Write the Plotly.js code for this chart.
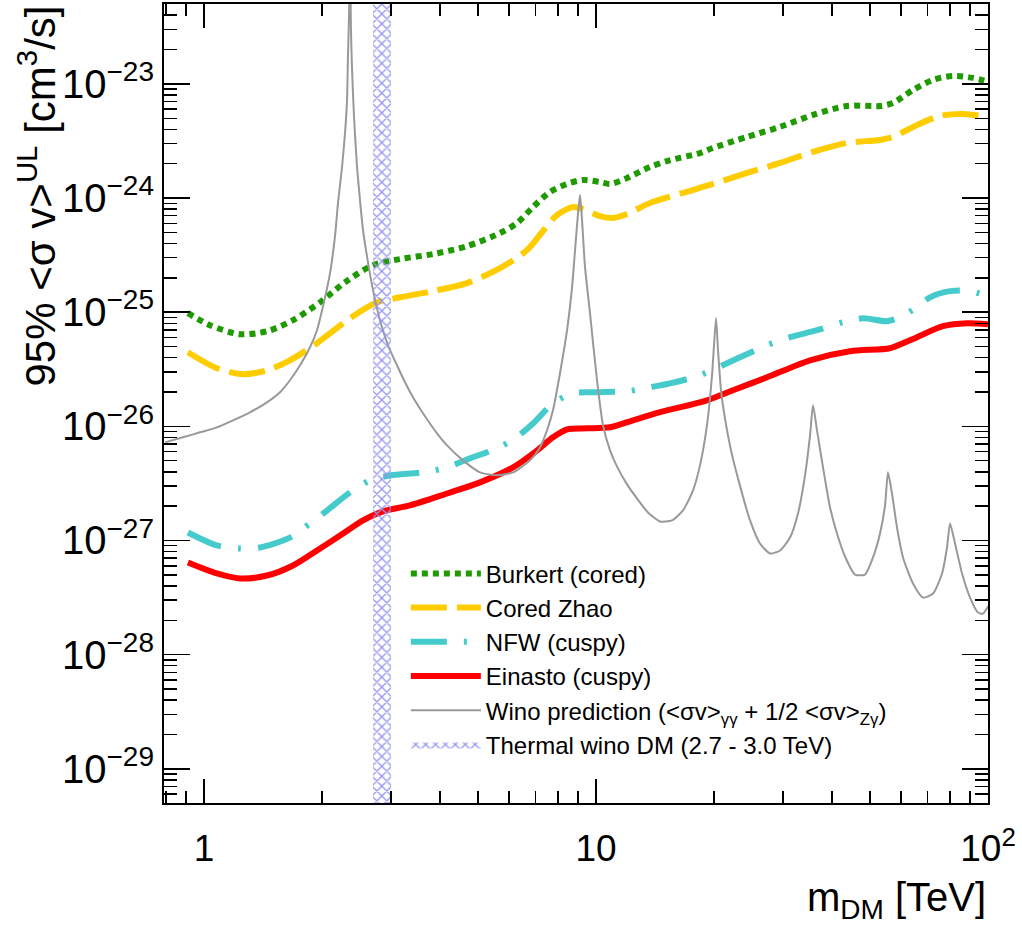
<!DOCTYPE html>
<html>
<head>
<meta charset="utf-8">
<script src="https://cdn.plot.ly/plotly-3.0.1.min.js"></script>
<style>html,body{margin:0;padding:0;background:#fff;}#chart{width:1022px;height:929px;}</style>
</head>
<body>
<div id="chart"></div>
<script>
// ---- Data ----
const burkertMass  = [0.910,1.036,1.235,1.448,1.687,1.977,2.290,2.699,3.162,3.839,4.688,5.690,6.287,6.907,7.632,8.437,9.266,10.24,10.86,11.86,13.73,15.18,18.42,19.88,24.28,29.47,35.78,43.69,53.03,57.24,64.38,72.39,81.44,91.56,100];
const burkertSigma = [9.80e-26,7.69e-26,6.41e-26,6.81e-26,8.51e-26,1.22e-25,1.83e-25,2.58e-25,2.92e-25,3.23e-25,3.79e-25,4.93e-25,6.04e-25,8.34e-25,1.13e-24,1.33e-24,1.44e-24,1.38e-24,1.33e-24,1.47e-24,1.87e-24,2.11e-24,2.48e-24,2.75e-24,3.43e-24,4.20e-24,5.35e-24,6.41e-24,6.41e-24,6.81e-24,8.86e-24,1.084e-23,1.175e-23,1.129e-23,1.043e-23];

const zhaoMass  = [0.910,1.079,1.257,1.448,1.657,1.942,2.358,2.763,3.162,3.839,4.688,5.690,6.668,7.324,7.953,8.739,9.266,10.24,11.05,12.00,13.73,16.67,19.88,24.28,29.47,35.78,43.69,53.03,57.24,64.38,75.44,86.35,100];
const zhaoSigma = [4.46e-26,3.23e-26,2.86e-26,3.10e-26,3.79e-26,5.35e-26,8.85e-26,1.22e-25,1.35e-25,1.53e-25,1.80e-25,2.43e-25,3.50e-25,5.14e-25,7.10e-25,8.34e-25,8.01e-25,6.95e-25,6.68e-25,7.25e-25,9.04e-25,1.11e-24,1.33e-24,1.66e-24,2.03e-24,2.54e-24,3.04e-24,3.23e-24,3.43e-24,4.20e-24,5.24e-24,5.46e-24,5.14e-24];

const nfwMass  = [0.910,1.079,1.235,1.389,1.657,1.864,2.060,2.358,2.651,2.983,3.620,4.169,4.771,5.590,6.214,6.907,7.768,8.739,10.06,12.00,13.73,15.45,18.42,23.30,27.31,31.26,36.63,42.67,47.99,55.25,59.65,65.91,71.12,80.02,89.99,100];
const nfwSigma = [1.175e-27,9.04e-28,8.51e-28,8.69e-28,1.06e-27,1.41e-27,1.83e-27,2.64e-27,3.36e-27,3.71e-27,3.95e-27,4.37e-27,5.24e-27,6.41e-27,7.85e-27,1.06e-26,1.59e-26,1.95e-26,1.99e-26,2.03e-26,2.20e-26,2.38e-26,2.80e-26,4.03e-26,5.14e-26,6.04e-26,6.95e-26,8.17e-26,8.85e-26,8.34e-26,9.04e-26,1.11e-25,1.35e-25,1.53e-25,1.53e-25,1.38e-25];

const einastoMass  = [0.910,1.079,1.235,1.448,1.687,1.942,2.263,2.545,2.862,3.354,4.169,5.060,6.142,7.071,7.768,8.437,9.485,10.86,12.43,14.57,19.19,22.36,27.31,35.16,44.46,56.23,60.71,65.91,76.78,88.39,100];
const einastoSigma = [6.41e-28,5.14e-28,4.65e-28,4.93e-28,6.04e-28,8.17e-28,1.15e-27,1.50e-27,1.80e-27,2.03e-27,2.58e-27,3.23e-27,4.37e-27,6.15e-27,8.01e-27,9.41e-27,9.60e-27,9.80e-27,1.13e-26,1.33e-26,1.69e-26,2.07e-26,2.69e-26,3.79e-26,4.55e-26,4.83e-26,5.35e-26,6.04e-26,7.54e-26,8.01e-26,7.85e-26];

const winoMass  = [0.795,0.884,0.977,1.079,1.186,1.310,1.448,1.563,1.657,1.758,1.864,1.942,2.012,2.097,2.159,2.197,2.250,2.290,2.317,2.330,2.344,2.358,2.371,2.385,2.414,2.457,2.500,2.545,2.620,2.699,2.812,2.948,3.107,3.257,3.413,3.620,3.930,4.169,4.578,5.060,5.590,6.142,6.786,7.197,7.499,7.768,8.094,8.437,8.688,8.843,8.999,9.105,9.213,9.376,9.654,10.06,10.42,10.86,11.31,12.00,12.72,13.57,14.57,15.63,16.67,17.68,18.42,19.19,19.77,20.00,20.24,20.48,20.84,21.33,22.10,23.03,24.72,26.20,27.80,29.48,31.26,32.76,34.14,35.16,35.78,36.63,37.94,39.54,41.19,43.18,45.79,48.56,50.89,53.03,54.62,55.57,56.89,58.60,60.70,64.37,68.28,72.41,76.33,78.60,80.02,82.40,85.86,89.99,94.30,97.10,100];
const winoSigma = [7.24e-27,8.01e-27,8.86e-27,9.80e-27,1.129e-26,1.327e-26,1.623e-26,1.987e-26,2.533e-26,3.428e-26,4.93e-26,6.95e-26,1.129e-25,2.197e-25,4.64e-25,9.04e-25,1.870e-24,3.72e-24,7.24e-24,1.796e-23,3.87e-23,1.224e-22,2.976e-23,1.409e-23,5.13e-24,1.870e-24,9.60e-25,5.24e-25,2.745e-25,1.560e-25,8.51e-26,5.13e-26,3.428e-26,2.432e-26,1.796e-26,1.300e-26,8.68e-27,6.81e-27,5.03e-27,3.95e-27,3.72e-27,3.95e-27,5.03e-27,6.54e-27,9.22e-27,1.382e-26,2.917e-26,6.95e-26,1.657e-25,3.50e-25,7.38e-25,1.062e-24,6.41e-25,2.481e-25,9.80e-26,2.533e-26,1.021e-26,6.16e-27,4.46e-27,3.10e-27,2.336e-27,1.760e-27,1.468e-27,1.498e-27,1.833e-27,2.745e-27,4.55e-27,1.021e-26,2.80e-26,5.13e-26,8.86e-26,4.64e-26,2.069e-26,1.175e-26,6.16e-27,3.50e-27,1.498e-27,9.41e-28,7.69e-28,8.17e-28,1.062e-27,1.725e-27,3.72e-27,8.34e-27,1.528e-26,9.22e-27,4.37e-27,1.948e-27,1.151e-27,7.24e-28,5.03e-28,5.03e-28,7.10e-28,1.151e-27,2.028e-27,3.95e-27,2.584e-27,1.300e-27,7.10e-28,4.20e-28,3.16e-28,3.43e-28,5.13e-28,8.68e-28,1.409e-27,9.41e-28,5.13e-28,3.16e-28,2.336e-28,2.289e-28,2.636e-28];

const thermalBandMass = [2.7, 3.0];   // TeV
const thermalBandSigma = [1e-30, 1e-22];

const seriesNames = ['Burkert (cored)', 'Cored Zhao', 'NFW (cuspy)', 'Einasto (cuspy)',
  'Wino prediction (&lt;σv&gt;<sub>γγ</sub> + 1/2 &lt;σv&gt;<sub>Zγ</sub>)', 'Thermal wino DM (2.7 - 3.0 TeV)'];

const yTickVals = [1e-29, 1e-28, 1e-27, 1e-26, 1e-25, 1e-24, 1e-23];
const yTickText = ['10<sup>−29</sup>','10<sup>−28</sup>','10<sup>−27</sup>','10<sup>−26</sup>','10<sup>−25</sup>','10<sup>−24</sup>','10<sup>−23</sup>'];
const xTickVals = [1, 10, 100];
const xTickText = ['1', '10', '10<sup>2</sup>'];

// ---- Traces ----
const traces = [
  {x: burkertMass, y: burkertSigma, name: seriesNames[0], mode: 'lines',
   line: {color: '#1f9a00', width: 6, dash: '6px,5px', shape: 'spline', smoothing: 0.8}},
  {x: zhaoMass, y: zhaoSigma, name: seriesNames[1], mode: 'lines',
   line: {color: '#ffcc00', width: 6, dash: '36px,10px', shape: 'spline', smoothing: 0.8}},
  {x: nfwMass, y: nfwSigma, name: seriesNames[2], mode: 'lines',
   line: {color: '#45cbcb', width: 6, dash: '36px,17px,3px,17px', shape: 'spline', smoothing: 0.8}},
  {x: einastoMass, y: einastoSigma, name: seriesNames[3], mode: 'lines',
   line: {color: '#ff0000', width: 6, shape: 'spline', smoothing: 0.8}},
  {x: winoMass, y: winoSigma, name: seriesNames[4], mode: 'lines',
   line: {color: '#999999', width: 2, shape: 'spline', smoothing: 0.6}},
  {x: [thermalBandMass[0], thermalBandMass[1], thermalBandMass[1], thermalBandMass[0], thermalBandMass[0]],
   y: [thermalBandSigma[0], thermalBandSigma[0], thermalBandSigma[1], thermalBandSigma[1], thermalBandSigma[0]],
   name: seriesNames[5], mode: 'lines', fill: 'toself',
   fillcolor: 'rgba(0,0,0,0)',
   fillpattern: {shape: 'x', fgcolor: '#9696f0', bgcolor: 'rgba(255,255,255,0)', size: 7, solidity: 0.35},
   line: {color: '#555555', width: 0}}
];

const font = 'Liberation Sans, Arial, Helvetica, sans-serif';

const layout = {
  width: 1022, height: 929,
  margin: {l: 164, r: 34, t: 4, b: 126},
  paper_bgcolor: '#ffffff', plot_bgcolor: '#ffffff',
  showlegend: true,
  legend: {x: 0.2935, y: 0.315, xanchor: 'left', yanchor: 'top',
    bgcolor: 'rgba(0,0,0,0)', borderwidth: 0, itemwidth: 70,
    font: {family: font, size: 24, color: '#000'}, tracegroupgap: 0},
  xaxis: {type: 'log', range: [-0.102, 2.0],
    tickmode: 'array', tickvals: xTickVals, ticktext: xTickText,
    ticks: 'inside', ticklen: 24, tickwidth: 1.5, tickcolor: '#000',
    ticklabelstandoff: 12,
    minor: {ticks: 'inside', ticklen: 12, tickwidth: 1.5, tickcolor: '#000', dtick: 'D1', showgrid: false},
    showline: true, linecolor: '#000', linewidth: 2, mirror: 'allticks',
    showgrid: false, zeroline: false,
    tickfont: {family: font, size: 37, color: '#000'}},
  yaxis: {type: 'log', range: [-29.3, -22.3],
    tickmode: 'array', tickvals: yTickVals, ticktext: yTickText,
    ticks: 'inside', ticklen: 26, tickwidth: 1.5, tickcolor: '#000',
    minor: {ticks: 'inside', ticklen: 13, tickwidth: 1.5, tickcolor: '#000', dtick: 'D1', showgrid: false},
    showline: true, linecolor: '#000', linewidth: 2, mirror: 'allticks',
    showgrid: false, zeroline: false,
    tickfont: {family: font, size: 40, color: '#000'}},
  annotations: [
    {xref: 'paper', yref: 'paper', x: 1, y: 0, xanchor: 'right', yanchor: 'middle',
     yshift: -97, showarrow: false,
     text: 'm<sub>DM</sub> [TeV]', font: {family: font, size: 40, color: '#000'}},
    {xref: 'paper', yref: 'paper', x: 0, y: 1, xanchor: 'center', yanchor: 'top',
     xshift: -127, showarrow: false, textangle: -90,
     text: '95% &lt;σ v&gt;<sup>UL</sup> [cm<sup>3</sup>/s]', font: {family: font, size: 42, color: '#000'}}
  ]
};

Plotly.newPlot('chart', traces, layout, {staticPlot: true, displayModeBar: false});
</script>
</body>
</html>
